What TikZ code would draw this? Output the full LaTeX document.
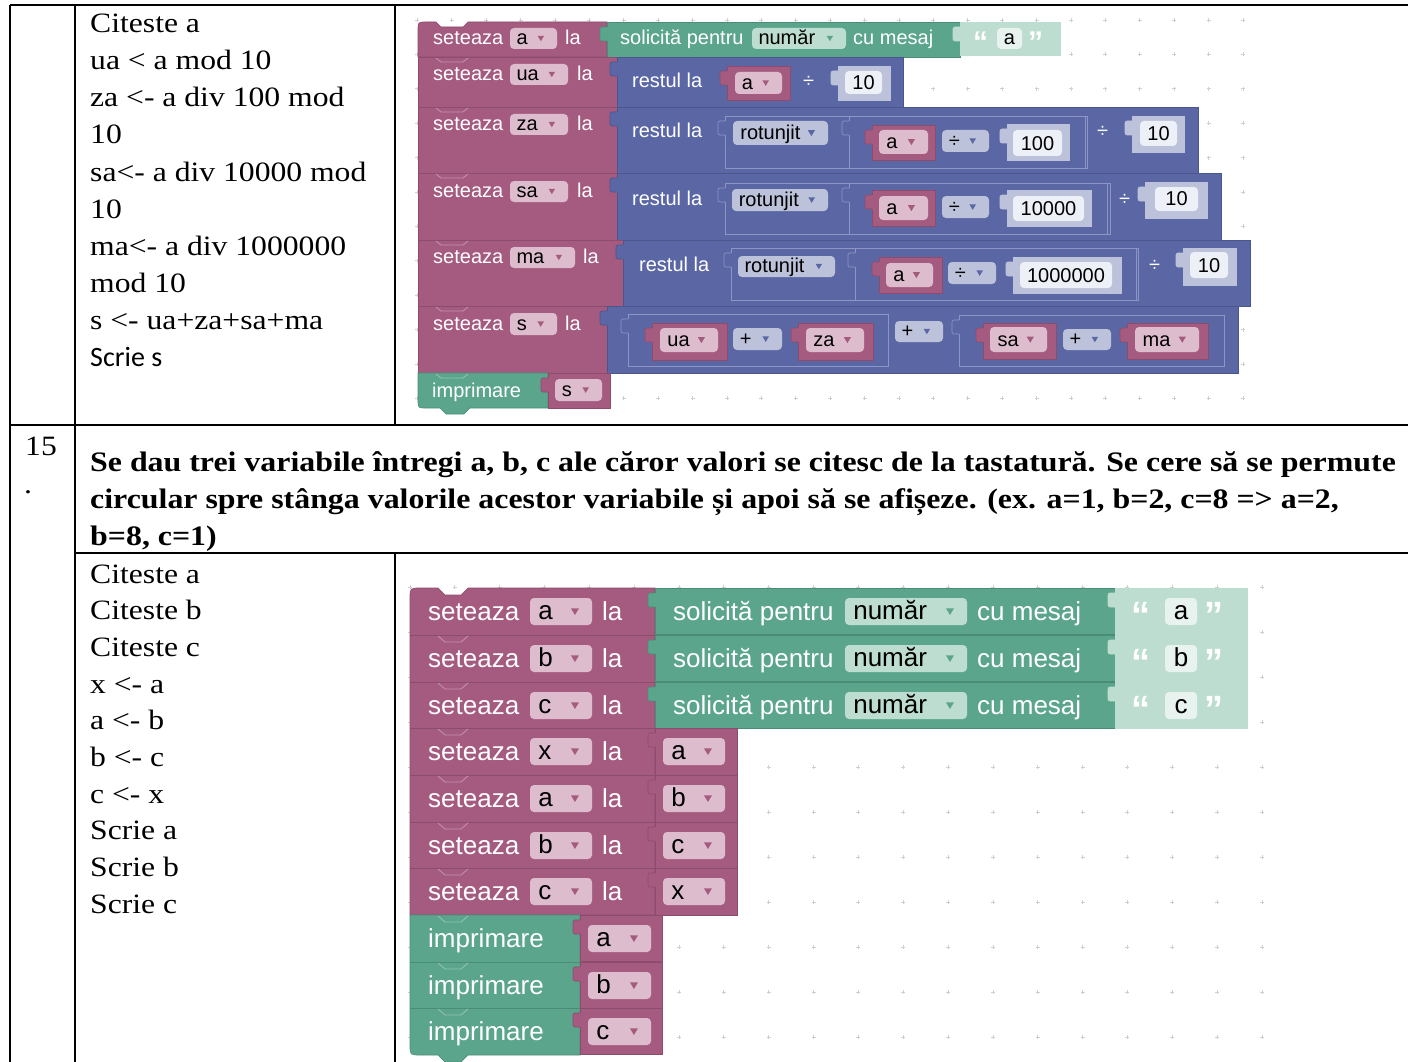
\documentclass[tikz,border=0pt]{standalone}
\usepackage{fontspec}
\setmainfont{Liberation Serif}[FakeStretch=1.13]
\setsansfont{Liberation Sans}
\newfontfamily\calfont{Carlito}
\usetikzlibrary{arrows}

\definecolor{plum}{HTML}{A55B80}
\definecolor{plumdk}{HTML}{8C4C6C}
\definecolor{plumfld}{HTML}{DDBDCD}
\definecolor{mint}{HTML}{5BA58C}
\definecolor{mintdk}{HTML}{4B8C76}
\definecolor{mintlt}{HTML}{BDDDD1}
\definecolor{mintfld}{HTML}{E8F2EE}
\definecolor{indigo}{HTML}{5B67A5}
\definecolor{indigodk}{HTML}{4B568C}
\definecolor{indigohl}{HTML}{8C95C4}
\definecolor{indigolt}{HTML}{BDC2DB}
\definecolor{indigofld}{HTML}{EEF0F8}
\definecolor{gridgray}{HTML}{CFCFCF}

\tikzset{
  lbl/.style={font=\sffamily\fontsize{20}{24}\selectfont, text=white, inner sep=0pt, anchor=base west},
  lblbig/.style={lbl, font=\sffamily\fontsize{26}{30}\selectfont},
  ftxt/.style={lbl, text=black},
  ftxtbig/.style={lblbig, text=black},
  quot/.style={lbl, font=\sffamily\bfseries\fontsize{30}{30}\selectfont},
  quotbig/.style={lbl, font=\sffamily\bfseries\fontsize{38}{38}\selectfont},
  cell/.style={font=\fontsize{28}{34}\selectfont, inner sep=0pt, anchor=base west},
  headtxt/.style={cell, font=\bfseries\fontsize{28.2}{34}\selectfont},
  tablerule/.style={line width=1.6pt},
  thinline/.style={line width=0.6pt},
  gridmark/.style={draw=gridgray, line width=0.7pt},
  notchhl/.style={draw=white, opacity=0.35, line width=0.8pt}
}

% value block with its input tab: x1,y1,x2,y2,fill,border
\newcommand{\valblk}[6]{%
  \filldraw[fill=#5, draw=#6, thinline, rounded corners=2pt] ({(#1)-7},{(#2)+5}) rectangle ({(#1)+2},{(#2)+19});
  \filldraw[fill=#5, draw=#6, thinline] (#1,#2) rectangle (#3,#4);
  \fill[#5] ({(#1)-0.4},{(#2)+5.4}) rectangle ({(#1)+1.6},{(#2)+18.6});
}
% dropdown field: name,x1,y1,x2,y2,fill,arrow colour,text style,text
\newcommand{\dropfld}[9]{%
  \fill[#6, rounded corners=4pt] (#2,#3) rectangle (#4,#5);
  \node[#8] (#1) at ({(#2)+0.3*((#5)-(#3))},{((#3)+(#5))/2+0.29*((#5)-(#3))}) {#9};
  \fill[#7] ({(#4)-13-0.3*((#5)-(#3))},{((#3)+(#5))/2-0.12*((#5)-(#3))}) -- ++({0.3*((#5)-(#3))},0) -- ++({-0.15*((#5)-(#3))},{0.25*((#5)-(#3))}) -- cycle;
}
% plain field: name,x1,y1,x2,y2,fill,text style,text
\newcommand{\valfld}[8]{%
  \fill[#6, rounded corners=4pt] (#2,#3) rectangle (#4,#5);
  \node[#7, anchor=base] (#1) at ({((#2)+(#4))/2},{((#3)+(#5))/2+0.29*((#5)-(#3))}) {#8};
}

\begin{document}
\begin{tikzpicture}[x=1pt, y=-1pt]
\useasboundingbox (0,0) rectangle (1408,1062);

%% table
\draw[tablerule] (10,5) -- (10,1062);
\draw[tablerule] (75,5) -- (75,1062);
\draw[tablerule] (395,5) -- (395,425);
\draw[tablerule] (395,553) -- (395,1062);
\draw[tablerule] (10,5) -- (1408,5);
\draw[tablerule] (10,425) -- (1408,425);
\draw[tablerule] (75,553) -- (1408,553);
\draw[line width=2.4pt] (1265,5) -- (1408,5) (1265,553) -- (1408,553);

%% pseudocode
\foreach \t [count=\i] in {Citeste a, ua < a mod 10, za <- a div 100 mod, 10, sa<- a div 10000 mod, 10, ma<- a div 1000000, mod 10, s <- ua+za+sa+ma}
	\node[cell] (p\i) at (90,{33+37*(\i-1)}) {\t};
\node[cell, font=\calfont\fontsize{28}{34}\selectfont] (p10) at (90,366) {Scrie s};

\node[cell] (nr) at (25,455) {15};
\node[cell] (nrdot) at (24,493) {.};
\node[headtxt] (h1) at (90,471) {Se dau trei variabile întregi a, b, c ale căror valori se citesc de la tastatură. Se cere să se permute};
\node[headtxt] (h2) at (90,508) {circular spre stânga valorile acestor variabile și apoi să se afișeze. (ex. a=1, b=2, c=8 => a=2,};
\node[headtxt] (h3) at (90,545) {b=8, c=1)};

\foreach \t [count=\i] in {Citeste a, Citeste b, Citeste c, x <- a, a <- b, b <- c, c <- x, Scrie a, Scrie b, Scrie c}
	\node[cell] (q\i) at (90,{583+36.7*(\i-1)}) {\t};

%% blocks, first program
\foreach \gx in {0,...,24}
	\foreach \gy in {0,...,11}
		\draw[gridmark] ({1243-34.4*\gx},{20+34.4*\gy}) +(-2,0) -- +(2,0) +(0,-2) -- +(0,2);

% seteaza a
\filldraw[fill=plum, draw=plumdk, thinline] (418,57) -- (418,30) .. controls (418,22) .. (426,22) -- (436,22) -- (441,27) -- (463,27) -- (468,22) -- (607,22) -- (607,57) -- cycle;
\valblk{607}{22}{960}{57}{mint}{mintdk}
\valblk{960}{22}{1060}{55}{mintlt}{mintlt}
\node[lbl] (set1) at (433,45) {seteaza};
\dropfld{v1}{510}{28}{557}{49}{plumfld}{plum}{ftxt}{a}
\node[lbl] (la1) at (565,45) {la};
\node[lbl] (ask1) at (620,45) {solicită pentru};
\dropfld{t1}{752}{28}{846}{49}{mintlt}{mint}{ftxt}{număr}
\node[lbl] (msg1) at (853,45) {cu mesaj};
\node[quot] (q1) at (973,53) {“};
\valfld{s1}{997}{28}{1022}{49}{mintfld}{ftxt}{a}
\node[quot] (qq1) at (1028,53) {”};

% seteaza ua
\filldraw[fill=plum, draw=plumdk, thinline] (418,57) rectangle (617,107);
\valblk{617}{57}{903}{107}{indigo}{indigodk}
\node[lbl] (set2) at (433,81) {seteaza};
\dropfld{v2}{510}{64}{568}{85}{plumfld}{plum}{ftxt}{ua}
\node[lbl] (la2) at (577,81) {la};
\node[lbl] (mod2) at (632,88) {restul la};
\valblk{727}{66}{790}{100}{plum}{plumdk}
\dropfld{a2}{735}{72}{782}{94}{plumfld}{plum}{ftxt}{a}
\node[lbl] (div2) at (803,88) {÷};
\valblk{838}{66}{890}{100}{indigolt}{indigolt}
\valfld{n2}{845}{71}{882}{94}{indigofld}{ftxt}{10}

% seteaza za
\filldraw[fill=plum, draw=plumdk, thinline] (418,107) rectangle (617,173);
\valblk{617}{107}{1198}{173}{indigo}{indigodk}
\node[lbl] (set3) at (433,131) {seteaza};
\dropfld{v3}{510}{114}{568}{135}{plumfld}{plum}{ftxt}{za}
\node[lbl] (la3) at (577,131) {la};
\node[lbl] (mod3) at (632,138) {restul la};
\valblk{725}{116}{1087}{168}{indigo}{indigohl}
\dropfld{r3}{733}{121}{828}{145}{indigolt}{indigo}{ftxt}{rotunjit}
\valblk{849}{116}{1085}{168}{indigo}{indigohl}
\valblk{872}{125}{935}{160}{plum}{plumdk}
\dropfld{a3}{879}{130}{928}{154}{plumfld}{plum}{ftxt}{a}
\dropfld{o3}{942}{130}{989}{152}{indigolt}{indigo}{ftxt}{÷}
\valblk{1007}{124}{1069}{160}{indigolt}{indigolt}
\valfld{n3}{1013}{130}{1062}{156}{indigofld}{ftxt}{100}
\node[lbl] (div3) at (1097,138) {÷};
\valblk{1132}{116}{1184}{152}{indigolt}{indigolt}
\valfld{m3}{1140}{121}{1177}{146}{indigofld}{ftxt}{10}

% seteaza sa
\filldraw[fill=plum, draw=plumdk, thinline] (418,173) rectangle (617,240);
\valblk{617}{173}{1221}{240}{indigo}{indigodk}
\node[lbl] (set4) at (433,197) {seteaza};
\dropfld{v4}{510}{181}{568}{202}{plumfld}{plum}{ftxt}{sa}
\node[lbl] (la4) at (577,197) {la};
\node[lbl] (mod4) at (632,205) {restul la};
\valblk{725}{183}{1110}{234}{indigo}{indigohl}
\dropfld{r4}{732}{189}{828}{211}{indigolt}{indigo}{ftxt}{rotunjit}
\valblk{849}{183}{1107}{234}{indigo}{indigohl}
\valblk{872}{190}{935}{226}{plum}{plumdk}
\dropfld{a4}{879}{196}{928}{220}{plumfld}{plum}{ftxt}{a}
\dropfld{o4}{942}{196}{989}{218}{indigolt}{indigo}{ftxt}{÷}
\valblk{1007}{190}{1091}{226}{indigolt}{indigolt}
\valfld{n4}{1013}{196}{1084}{221}{indigofld}{ftxt}{10000}
\node[lbl] (div4) at (1119,205) {÷};
\valblk{1145}{182}{1207}{218}{indigolt}{indigolt}
\valfld{m4}{1155}{187}{1198}{211}{indigofld}{ftxt}{10}

% seteaza ma
\filldraw[fill=plum, draw=plumdk, thinline] (418,240) rectangle (623,306);
\valblk{623}{240}{1250}{306}{indigo}{indigodk}
\node[lbl] (set5) at (433,263) {seteaza};
\dropfld{v5}{510}{247}{575}{268}{plumfld}{plum}{ftxt}{ma}
\node[lbl] (la5) at (583,263) {la};
\node[lbl] (mod5) at (639,271) {restul la};
\valblk{731}{248}{1138}{300}{indigo}{indigohl}
\dropfld{r5}{738}{256}{835}{277}{indigolt}{indigo}{ftxt}{rotunjit}
\valblk{855}{248}{1136}{300}{indigo}{indigohl}
\valblk{879}{257}{942}{293}{plum}{plumdk}
\dropfld{a5}{886}{263}{933}{287}{plumfld}{plum}{ftxt}{a}
\dropfld{o5}{948}{262}{996}{284}{indigolt}{indigo}{ftxt}{÷}
\valblk{1013}{257}{1121}{293}{indigolt}{indigolt}
\valfld{n5}{1020}{262}{1112}{288}{indigofld}{ftxt}{1000000}
\node[lbl] (div5) at (1149,271) {÷};
\valblk{1183}{248}{1236}{285}{indigolt}{indigolt}
\valfld{m5}{1190}{252}{1228}{278}{indigofld}{ftxt}{10}

% seteaza s
\filldraw[fill=plum, draw=plumdk, thinline] (418,306) rectangle (607,373);
\valblk{607}{306}{1238}{373}{indigo}{indigodk}
\node[lbl] (set6) at (433,330) {seteaza};
\dropfld{v6}{510}{313}{557}{335}{plumfld}{plum}{ftxt}{s}
\node[lbl] (la6) at (565,330) {la};
\valblk{628}{314}{888}{366}{indigo}{indigohl}
\valblk{652}{323}{727}{360}{plum}{plumdk}
\dropfld{ua6}{660}{328}{718}{352}{plumfld}{plum}{ftxt}{ua}
\dropfld{p6a}{733}{328}{782}{350}{indigolt}{indigo}{ftxt}{+}
\valblk{798}{323}{873}{360}{plum}{plumdk}
\dropfld{za6}{806}{328}{864}{352}{plumfld}{plum}{ftxt}{za}
\dropfld{p6b}{895}{321}{943}{342}{indigolt}{indigo}{ftxt}{+}
\valblk{959}{315}{1224}{366}{indigo}{indigohl}
\valblk{983}{323}{1056}{359}{plum}{plumdk}
\dropfld{sa6}{990}{327}{1047}{352}{plumfld}{plum}{ftxt}{sa}
\dropfld{p6c}{1063}{329}{1111}{350}{indigolt}{indigo}{ftxt}{+}
\valblk{1127}{323}{1208}{359}{plum}{plumdk}
\dropfld{ma6}{1135}{327}{1199}{352}{plumfld}{plum}{ftxt}{ma}

% imprimare s
\filldraw[fill=mint, draw=mintdk, thinline] (418,373) -- (418,400) .. controls (418,408) .. (426,408) -- (440,408) -- (446,414) -- (464,414) -- (470,408) -- (548,408) -- (548,373) -- cycle;
\node[lbl] (pr7) at (432,397) {imprimare};
\valblk{548}{373}{610}{408}{plum}{plumdk}
\dropfld{v7}{555}{379}{602}{401}{plumfld}{plum}{ftxt}{s}

\foreach \y in {57,107,173,240,306,373}
	\draw[notchhl] (436,\y+1) -- (441,\y+5) -- (463,\y+5) -- (468,\y+1);

%% blocks, second program
\foreach \gx in {0,...,19}
	\foreach \gy in {0,...,10}
		\draw[gridmark] ({1262-44.85*\gx},{587+45*\gy}) +(-2,0) -- +(2,0) +(0,-2) -- +(0,2);

\filldraw[fill=plum, draw=plumdk, thinline] (410,915) -- (410,598) .. controls (410,588) .. (420,588) -- (438,588) -- (445,595) -- (461,595) -- (468,588) -- (655,588) -- (655,915) -- cycle;
\filldraw[fill=mint, draw=mintdk, thinline] (410,915) -- (410,1045) .. controls (410,1055) .. (420,1055) -- (438,1055) -- (445,1062) -- (461,1062) -- (468,1055) -- (580,1055) -- (580,915) -- cycle;
\foreach \y in {635,682,728,775,822,868}
	\draw[plumdk, thinline] (410,\y) -- (655,\y);
\foreach \y in {962,1008}
	\draw[mintdk, thinline] (410,\y) -- (580,\y);
\foreach \y in {635,682,728,775,822,868,915,962,1008}
	\draw[notchhl] (438,\y+1) -- (445,\y+7) -- (461,\y+7) -- (468,\y+1);

\foreach \v/\t [count=\i] in {a/588,b/635,c/682}{
	\valblk{655}{\t}{1115}{\t+46}{mint}{mintdk}
	\valblk{1115}{\t}{1247}{\t+46}{mintlt}{mintlt}
	\node[lblbig] (bset\i) at (428,\t+32) {seteaza};
	\dropfld{bv\i}{530}{\t+10}{592}{\t+37}{plumfld}{plum}{ftxtbig}{\v}
	\node[lblbig] (bla\i) at (602,\t+32) {la};
	\node[lblbig] (bask\i) at (673,\t+32) {solicită pentru};
	\dropfld{bt\i}{845}{\t+10}{967}{\t+37}{mintlt}{mint}{ftxtbig}{număr}
	\node[lblbig] (bmsg\i) at (977,\t+32) {cu mesaj};
	\node[quotbig] (bq\i) at (1131,\t+40) {“};
	\valfld{bs\i}{1165}{\t+10}{1197}{\t+37}{mintfld}{ftxtbig}{\v}
	\node[quotbig] (bqq\i) at (1204,\t+40) {”};
}
\foreach \v/\w/\t [count=\i] in {x/a/728,a/b/775,b/c/822,c/x/868}{
	\valblk{655}{\t}{737}{\t+47}{plum}{plumdk}
	\node[lblbig] (cset\i) at (428,\t+32) {seteaza};
	\dropfld{cv\i}{530}{\t+10}{592}{\t+37}{plumfld}{plum}{ftxtbig}{\v}
	\node[lblbig] (cla\i) at (602,\t+32) {la};
	\dropfld{cw\i}{663}{\t+10}{725}{\t+37}{plumfld}{plum}{ftxtbig}{\w}
}
\foreach \v/\t [count=\i] in {a/915,b/962,c/1008}{
	\node[lblbig] (dpr\i) at (428,\t+32) {imprimare};
	\valblk{580}{\t}{662}{\t+46}{plum}{plumdk}
	\dropfld{dv\i}{588}{\t+10}{651}{\t+37}{plumfld}{plum}{ftxtbig}{\v}
}

\end{tikzpicture}
\end{document}
